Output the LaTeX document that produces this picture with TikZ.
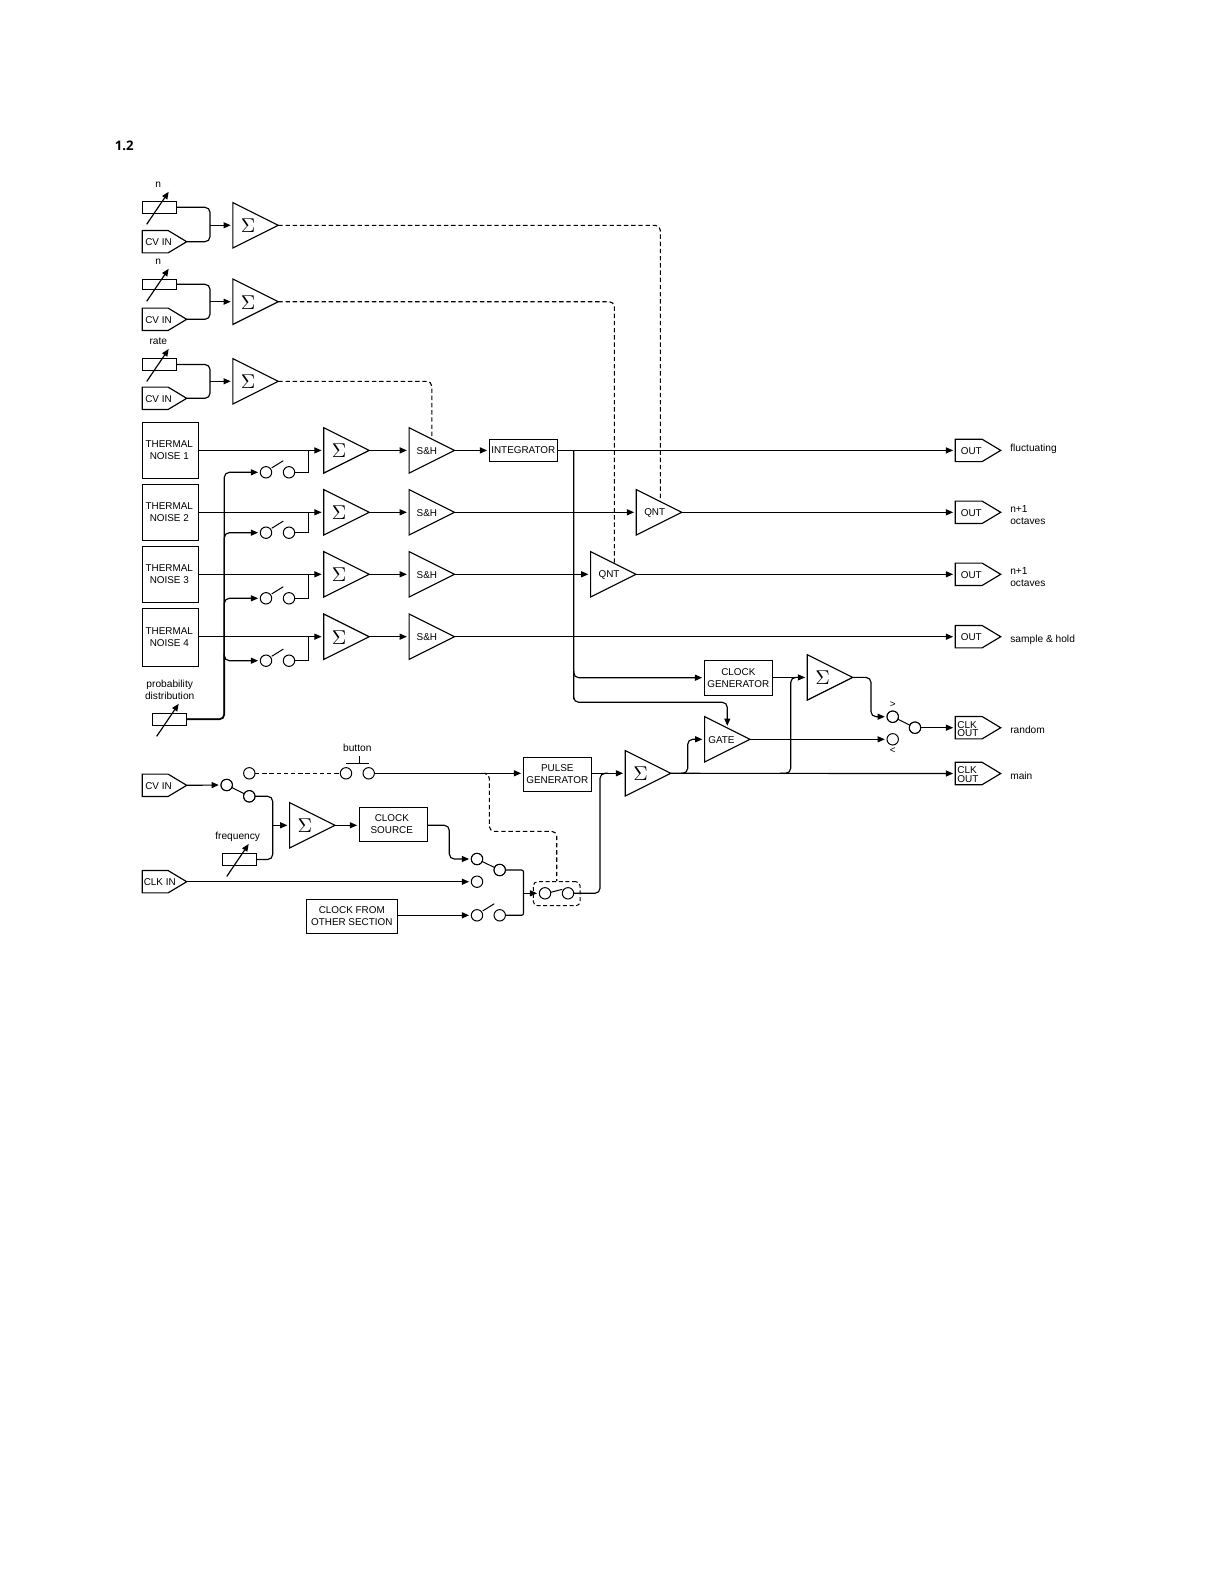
\documentclass[tikz,border=0pt]{standalone}
\usepackage{fontspec}
\setmainfont{Liberation Sans}
\newfontfamily\titlefont{Open Sans}
\usetikzlibrary{arrows.meta,shapes.geometric,shapes.symbols,calc}
\tikzset{
  wire/.style={line width=0.58pt,draw=black},
  arr/.style={wire,-{Stealth[inset=0pt,length=3.6pt,width=3pt]},shorten >=1.1pt},
  rwire/.style={wire,rounded corners=2.5pt},
  rarr/.style={arr,rounded corners=2.5pt},
  dashwire/.style={line width=0.55pt,draw=black,dash pattern=on 2.2pt off 1.4pt,rounded corners=2.5pt},
  txt/.style={font=\fontsize{4.95}{6}\selectfont,inner sep=0,outer sep=0,align=center},
  lbl/.style={font=\fontsize{5.1}{6}\selectfont,inner sep=0,outer sep=0,align=center},
  box/.style={draw,line width=0.58pt,inner sep=0,outer sep=0,align=center,font=\fontsize{4.95}{6.1}\selectfont},
  tri/.style={isosceles triangle,isosceles triangle stretches,draw,line width=0.58pt,inner sep=0,outer sep=0,minimum width=22.7pt,minimum height=22.7pt,shape border rotate=0},
  sig/.style={signal,signal to=east,signal from=nowhere,signal pointer angle=62,draw,line width=0.58pt,inner sep=0,outer sep=0,minimum width=22.7pt,minimum height=11.2pt},
  insig/.style={sig,minimum width=22.2pt},
  circ/.style={circle,draw,line width=0.5pt,inner sep=0,outer sep=0,minimum size=5.7pt},
  pot/.style={rectangle,draw,line width=0.58pt,inner sep=0,outer sep=0,minimum width=17.2pt,minimum height=6pt},
  potarrow/.style={line width=0.58pt,-{Stealth[inset=0pt,length=3.6pt,width=3pt]}},
  lever/.style={line width=0.5pt},
}
\newcommand{\trinode}[5]{%
  \node[tri,anchor=apex] (#1) at (#2,#3) {};
  \node[txt] (#1t) at ([xshift=#4pt,yshift=-0.3pt]#1.lower side) {#5};}
\newcommand{\signode}[4]{%
  \node[sig,anchor=east] (#1) at (#2,#3) {};
  \node[txt] (#1t) at (#2-29.4,#3+0.6) {#4};}
\newcommand{\insignode}[4]{%
  \node[insig,anchor=east] (#1) at (#2,#3) {};
  \node[txt] (#1t) at (#2-28.2,#3+0.6) {#4};}
\newcommand{\potmark}[1]{\draw[potarrow] ([shift={(-12.8,17)}]#1.center) -- ([shift={(9.2,-15.5)}]#1.center);}
\newcommand{\openlever}[1]{\draw[lever] ([shift={(5.7,-4.4)}]#1.center) -- ([shift={(17.3,-11.6)}]#1.center);}
\newcommand{\sg}{{\fontsize{10}{12}\selectfont\(\Sigma\)}}
\begin{document}
\begin{tikzpicture}[x=0.5pt,y=-0.5pt]
\useasboundingbox (0,0) rectangle (1224,1584);
\node[anchor=base west,inner sep=0,font=\titlefont\bfseries\fontsize{6.6}{8}\selectfont] (title) at (114.5,150) {1.2};

% --- top three control rows
\node[pot] (p1) at (159.5,207.3) {};
\node[pot,minimum height=5pt] (p2) at (159.5,284.3) {};
\node[pot] (p3) at (159.5,364.5) {};
\potmark{p1}\potmark{p2}\potmark{p3}
\node[lbl] (ln1) at (158.3,185) {n};
\node[lbl] (ln2) at (158.3,262) {n};
\node[lbl] (lrate) at (158.3,341.5) {rate};
\insignode{c1}{186.7}{241.7}{CV IN}
\insignode{c2}{186.7}{319.3}{CV IN}
\insignode{c3}{186.7}{398.3}{CV IN}
\trinode{a1}{278.3}{225.3}{7.6}{\sg}
\trinode{a2}{278.3}{301.7}{7.6}{\sg}
\trinode{a3}{278.3}{381.3}{7.6}{\sg}
\coordinate (j1) at (210,225.3);
\coordinate (j2) at (210,301.7);
\coordinate (j3) at (210,381.3);
\foreach \i in {1,2,3}{
  \draw[rwire] (p\i.east) -| (j\i) |- (c\i.east);
  \draw[arr] (j\i) -- (j\i -| a\i.lower side);
}

% --- thermal noise rows
\node[box,minimum width=28pt,minimum height=27.8pt] (n1) at (170.3,450.5) {THERMAL\hspace*{1pt}\\NOISE 1\hspace*{1pt}};
\node[box,minimum width=28pt,minimum height=28pt] (n2) at (170.3,512.3) {THERMAL\hspace*{1pt}\\NOISE 2\hspace*{1pt}};
\node[box,minimum width=28pt,minimum height=28pt] (n3) at (170.3,574.3) {THERMAL\hspace*{1pt}\\NOISE 3\hspace*{1pt}};
\node[box,minimum width=28pt,minimum height=29pt] (n4) at (170.3,637.3) {THERMAL\hspace*{1pt}\\NOISE 4\hspace*{1pt}};
\trinode{s1}{369.2}{450.4}{7.6}{\sg}
\trinode{s2}{369.2}{512.3}{7.6}{\sg}
\trinode{s3}{369.2}{574.3}{7.6}{\sg}
\trinode{s4}{369.2}{636.7}{7.6}{\sg}
\trinode{h1}{454.5}{450.4}{8.9}{S\&H}
\trinode{h2}{454.5}{512.3}{8.9}{S\&H}
\trinode{h3}{454.5}{574.3}{8.9}{S\&H}
\trinode{h4}{454.5}{636.7}{8.9}{S\&H}
\node[circ] (w1a) at (266,472.3) {};
\node[circ] (w1b) at (289,472.3) {};
\node[circ] (w2a) at (266,532.7) {};
\node[circ] (w2b) at (289,532.7) {};
\node[circ] (w3a) at (266,598.3) {};
\node[circ] (w3b) at (289,598.3) {};
\node[circ] (w4a) at (266,660.7) {};
\node[circ] (w4b) at (289,660.7) {};
\node[pot] (pd) at (169.5,719.3) {};
\potmark{pd}
\node[lbl] (lprob) at (169.7,690) {probability\\distribution};
\coordinate (bus) at (224.3,660);
\draw[rarr] (pd.east) -| (bus) |- (w4a.west);
\foreach \i in {1,2,3}{
  \draw[rarr] (bus) |- (w\i a.west);
}
\draw[line width=0.85pt,rounded corners=2.5pt] (pd.east) -| (bus);
\foreach \i/\yy/\hh in {1/450.4/n1,2/512.3/n2,3/574.3/n3,4/636.7/n4}{
  \coordinate (k\i) at (308.3,\yy);
  \draw[arr] (\hh.east |- k\i) -- (k\i -| s\i.lower side);
  \draw[wire] (w\i b.east) -| (k\i);
  \draw[arr] (s\i.apex) -- (s\i.apex -| h\i.lower side);
  \openlever{w\i a}
}

% --- integrator, quantisers, outputs
\node[box,minimum width=34pt,minimum height=11pt] (int) at (523.3,450.4) {INTEGRATOR};
\draw[arr] (h1.apex) -- (int.west);
\trinode{q1}{681.7}{512.3}{9.2}{QNT}
\trinode{q2}{636}{574.3}{9.2}{QNT}
\signode{o1}{1000.7}{450.4}{OUT}
\signode{o2}{1000.7}{512.3}{OUT}
\signode{o3}{1000.7}{574.3}{OUT}
\signode{o4}{1000.7}{636.7}{OUT}
\node[lbl,anchor=west] (lo1) at (1010.3,449.2) {fluctuating};
\node[lbl,anchor=west,align=left] (lo2) at (1010.3,514.8) {n+1\\octaves};
\node[lbl,anchor=west,align=left] (lo3) at (1010.3,577.2) {n+1\\octaves};
\node[lbl,anchor=west] (lo4) at (1010.3,639.5) {sample \& hold};
\draw[arr] (int.east) -- (o1.west);
\draw[arr] (h2.apex) -- (q1.lower side);
\draw[arr] (h3.apex) -- (q2.lower side);
\draw[arr] (q1.apex) -- (o2.west);
\draw[arr] (q2.apex) -- (o3.west);
\draw[arr] (h4.apex) -- (o4.west);
\coordinate (q1d) at (660.3,501);
\coordinate (q2d) at (614.3,562.5);
\draw[dashwire] (a1.apex) -| (q1d);
\draw[dashwire] (a2.apex) -| (q2d);
\draw[dashwire] (a3.apex) -| (h1.left side);

% --- clock generator and gate
\coordinate (bi) at (573.7,450.4);
\coordinate (bi2) at (573.7,671);
\node[box,minimum width=34pt,minimum height=17.5pt] (cg) at (738.3,677.7) {CLOCK\\GENERATOR};
\trinode{r1}{852.7}{677.4}{7.6}{\sg}
\trinode{g}{750}{739.3}{8.4}{GATE}
\draw[rarr] (bi) |- (cg.west);
\draw[rarr] (bi2) |- (573.7,702.3) -| (g.left side);
\draw[arr] (cg.east |- r1.lower side) -- (r1.lower side);
\node[circ] (x1) at (892.7,716.7) {};
\node[circ] (x2) at (892.7,739.3) {};
\node[circ] (x3) at (915,727.7) {};
\node[txt] (lgt) at (892.7,705) {>};
\node[txt] (llt) at (892.7,751) {<};
\coordinate (r1m) at (871,700);
\draw[rwire] (r1.apex) -| (r1m);
\draw[rarr] (r1m) |- (x1.west);
\draw[arr] (g.apex) -- (x2.west);
\draw[lever] (x1) -- (x3);
\fill[white] (x1.center) circle (2.7pt) (x3.center) circle (2.7pt);
\node[circ] at (892.7,716.7) {};
\node[circ] at (915,727.7) {};
\node[sig,anchor=east] (cko1) at (1000.7,727.7) {};
\node[sig,anchor=east] (cko2) at (1000.7,773.5) {};
\node[txt,anchor=west,align=left,font=\fontsize{5}{4.2}\selectfont] (cko1t) at (957.3,729) {CLK\\OUT};
\node[txt,anchor=west,align=left,font=\fontsize{5}{4.2}\selectfont] (cko2t) at (957.3,774.5) {CLK\\OUT};
\node[lbl,anchor=west] (lrand) at (1010.3,730) {random};
\node[lbl,anchor=west] (lmain) at (1010.3,775.8) {main};
\draw[arr] (x3.east) -- (cko1.west);

% --- lower section
\insignode{cv4}{186.7}{785.3}{CV IN}
\node[circ] (y1) at (226.7,785) {};
\node[circ] (y2) at (249.3,796.3) {};
\node[circ] (y3) at (249.3,773.3) {};
\draw[lever] (y1) -- (y2);
\fill[white] (y1.center) circle (2.7pt) (y2.center) circle (2.7pt);
\node[circ] at (226.7,785) {};
\node[circ] at (249.3,796.3) {};
\draw[arr] (cv4.east) -- (y1.west);
\node[circ] (b1) at (346,773.3) {};
\node[circ] (b2) at (368.7,773.3) {};
\coordinate (bt1) at (346,763.3);
\coordinate (bt2) at (369.3,763.3);
\coordinate (bt3) at (359.3,756);
\coordinate (bt4) at (359.3,763.3);
\draw[wire] (bt1) -- (bt2) (bt3) -- (bt4);
\node[lbl] (lbtn) at (357.3,747.6) {button};
\draw[dashwire] (y3.east) -- (b1.west);
\node[box,minimum width=34pt,minimum height=17pt] (pg) at (557.3,774.3) {PULSE\\GENERATOR};
\draw[arr] (b2.east) -- (b2.east -| pg.west);
\trinode{m}{670.7}{773.3}{7.6}{\sg}
\coordinate (jm) at (600,773.3);
\coordinate (jm2) at (608,773.3);
\draw[arr] (pg.east |- m.lower side) -- (m.lower side);
\insignode{cki}{186.7}{881.7}{}
\node[txt] (ckit) at (159.8,882.3) {CLK IN};
\node[pot] (pf) at (239.5,859.5) {};
\potmark{pf}
\node[lbl] (lfreq) at (237.7,836.6) {frequency};
\trinode{c5}{335}{825.3}{7.6}{\sg}
\node[box,minimum width=34pt,minimum height=17pt] (cs) at (393.3,824.3) {CLOCK\hspace*{1.5pt}\\SOURCE\hspace*{1.5pt}};
\coordinate (jc) at (272.7,825.3);
\draw[rwire] (y2.east) -| (jc) |- (pf.east);
\draw[arr] (jc) -- (c5.lower side);
\draw[arr] (c5.apex) -- (c5.apex -| cs.west);
\node[circ] (z1) at (477,859) {};
\node[circ] (z2) at (499.7,870) {};
\node[circ] (z3) at (477,881.7) {};
\node[circ] (z4) at (477,915.3) {};
\node[circ] (z5) at (499.7,915.3) {};
\draw[lever] (z1) -- (z2);
\fill[white] (z1.center) circle (2.7pt) (z2.center) circle (2.7pt);
\node[circ] at (477,859) {};
\node[circ] at (499.7,870) {};
\openlever{z4}
\coordinate (jcs) at (449.3,840);
\draw[rwire] (cs.east |- c5.apex) -| (jcs);
\draw[rarr] (jcs) |- (z1.west);
\draw[arr] (cki.east) -- (z3.west);
\node[box,minimum width=45.5pt,minimum height=17pt] (cf) at (351.8,916.3) {CLOCK FROM\\OTHER SECTION};
\draw[arr] (cf.east |- z4) -- (z4.west);
\node[circ] (t1) at (545,893.3) {};
\node[circ] (t2) at (568,893.3) {};
\coordinate (tj) at (523.5,893.3);
\draw[wire,rounded corners=1pt] (z2.east) -| (tj) |- (z5.east);
\draw[arr] (tj) -- (t1.west);
\draw[lever] ([shift={(5.7,-1)}]t1.center) -- ([shift={(17.3,-4)}]t1.center);
\draw[rwire] (t2.east) -| (jm) -- (jm2);
\node[draw,line width=0.5pt,dash pattern=on 2pt off 1.3pt,rounded corners=2pt,minimum width=23.3pt,minimum height=12pt,inner sep=0] (tb) at (556.7,893.7) {};
\coordinate (dj) at (486,773.3);
\coordinate (dk) at (489.3,831.3);
\draw[dashwire] (dj) -- (489.3,773.3) -- (dk) -| (tb.north);

% --- main line
\coordinate (mj0) at (681,773.3);
\coordinate (mj) at (687.7,773.3);
\coordinate (mk) at (790.7,773.3);
\coordinate (mk0) at (780,773.3);
\coordinate (rj) at (790.7,677.4);
\coordinate (rj2) at (798,677.4);
\draw[arr] (m.apex) -- (cko2.west);
\draw[rarr] (mj0) -- (mj) |- (g.lower side);
\draw[rwire] (mk0) -- (mk) -- (rj) -- (rj2);
\end{tikzpicture}
\end{document}
